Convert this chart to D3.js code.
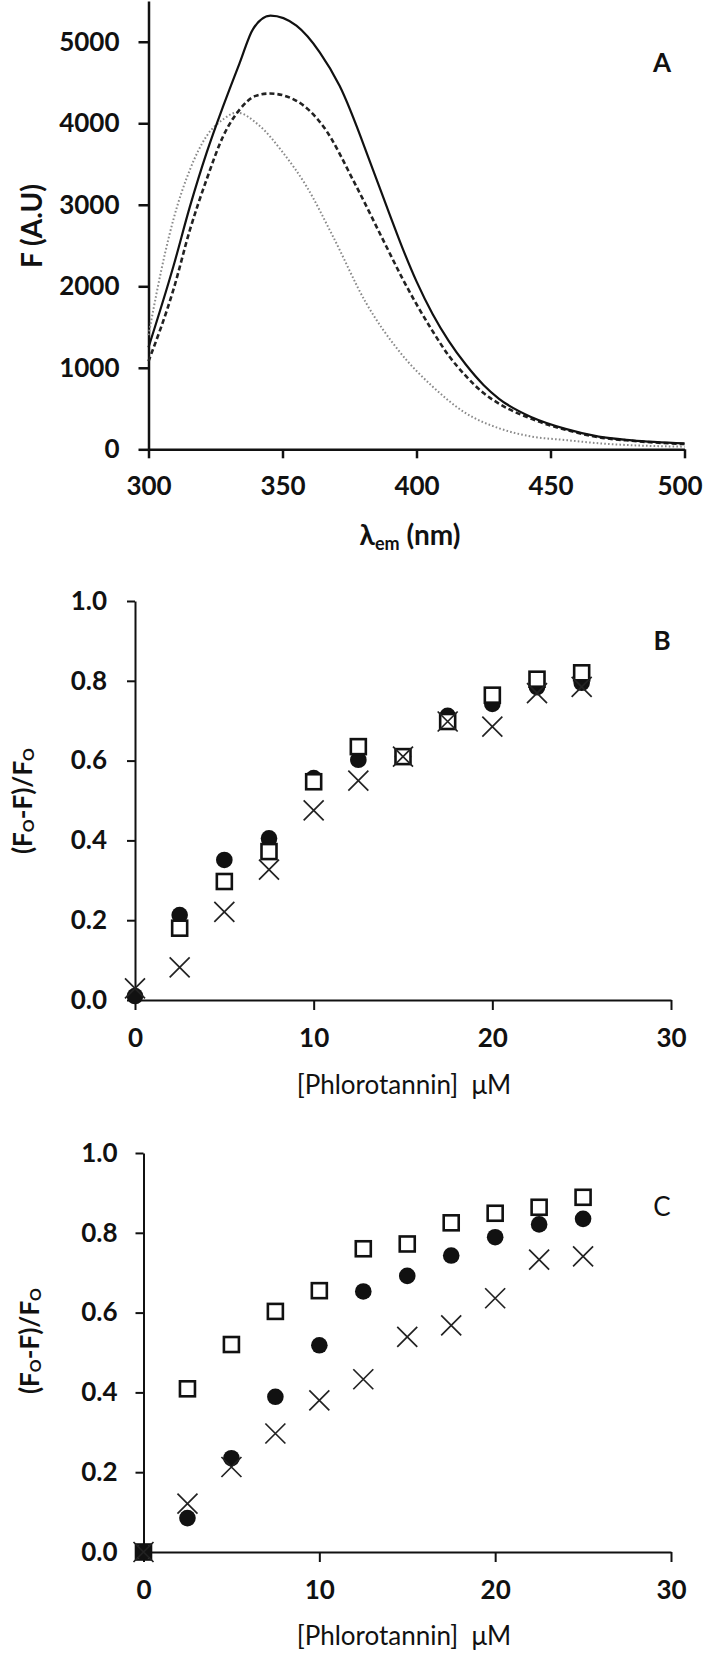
<!DOCTYPE html>
<html><head><meta charset="utf-8">
<script src="https://cdn.jsdelivr.net/npm/d3@7"></script>
<style>
body{margin:0;background:#fff}
svg{display:block}
text{font-family:Lato,"Liberation Sans",sans-serif;fill:#111}
</style></head><body>
<svg id="c" width="706" height="1654"></svg>
<script>
// ---------- Panel A: emission spectra ----------
const aTicksX = [300, 350, 400, 450, 500];
const aTicksY = [0, 1000, 2000, 3000, 4000, 5000];
const solidLambda = [300, 309.3, 315.5, 321.7, 327.9, 334.1, 339, 345.5, 355.2, 363.9, 371.3, 383.7, 390, 395, 400, 406, 412, 418.4, 425, 430.8, 443.2, 455.6, 468, 480.4, 500];
const solidF      = [1250, 2245, 2983, 3640, 4213, 4747, 5156, 5320, 5197, 4870, 4459, 3435, 2880, 2450, 2060, 1660, 1330, 1040, 790, 620, 390, 250, 155, 110, 72];
const dashLambda  = [300, 309.3, 315.5, 321.7, 327.9, 334.1, 340, 345.3, 355.2, 365.1, 377.5, 388.7, 395, 400, 406, 412, 418.4, 425, 430.8, 443.2, 455.6, 468, 480.4, 500];
const dashF       = [1080, 1959, 2697, 3312, 3844, 4172, 4336, 4365, 4275, 3967, 3229, 2491, 2080, 1780, 1450, 1150, 900, 690, 560, 370, 240, 148, 104, 64];
const dotLambda   = [300, 306.2, 309.3, 315.5, 321.7, 327.9, 332.9, 341.5, 350.2, 358.9, 368.8, 381.2, 393.6, 406, 418.4, 430.8, 443.2, 455.6, 468, 480.4, 500];
const dotF        = [1400, 2410, 2820, 3434, 3844, 4049, 4131, 3967, 3640, 3229, 2614, 1795, 1200, 770, 443, 258, 155, 114, 74, 50, 32];

// ---------- Panels B & C: quenching ----------
const conc = [0, 2.5, 5, 7.5, 10, 12.5, 15, 17.5, 20, 22.5, 25];
const concTicks = [0, 10, 20, 30];
const quenchTicks = [0, 0.2, 0.4, 0.6, 0.8, 1.0];
const bCircle = [0.01, 0.213, 0.351, 0.405, 0.556, 0.602, 0.61, 0.712, 0.742, 0.784, 0.795];
const bSquare = [null, 0.18, 0.297, 0.372, 0.547, 0.635, 0.61, 0.698, 0.764, 0.804, 0.82];
const bCross  = [0.029, 0.082, 0.221, 0.327, 0.475, 0.55, 0.61, 0.698, 0.685, 0.769, 0.785];
const cSquare = [0, 0.409, 0.52, 0.603, 0.655, 0.76, 0.772, 0.825, 0.849, 0.864, 0.889];
const cCircle = [0, 0.085, 0.235, 0.389, 0.518, 0.653, 0.692, 0.743, 0.789, 0.821, 0.835];
const cCross  = [0, 0.121, 0.213, 0.297, 0.38, 0.433, 0.539, 0.568, 0.636, 0.733, 0.741];

const svg = d3.select("#c");

function styleAxis(g, w) {
  g.select(".domain").attr("stroke", "#111").attr("stroke-width", w);
  g.selectAll(".tick line").attr("stroke", "#111").attr("stroke-width", w);
  g.selectAll(".tick text").attr("font-size", 26).attr("font-weight", 700)
    .attr("font-family", "Lato,'Liberation Sans',sans-serif").attr("fill", "#111");
}

// ===== Panel A =====
const ax = d3.scaleLinear().domain([300, 500]).range([148.5, 684.5]);
const ay = d3.scaleLinear().domain([0, 5500]).range([449.3, 1]);
const gA = svg.append("g");
const aXAxis = gA.append("g").attr("transform", `translate(0,${ay(0)})`)
  .call(d3.axisBottom(ax).tickValues(aTicksX).tickSize(9).tickPadding(18).tickSizeOuter(0).tickFormat(d3.format("d")));
styleAxis(aXAxis, 2.5);
aXAxis.selectAll(".tick text").filter(d => d === 500).attr("dx", -5);
const aYAxis = gA.append("g").attr("transform", `translate(${ax(300)},0)`)
  .call(d3.axisLeft(ay).tickValues(aTicksY).tickSize(10).tickPadding(19).tickSizeOuter(0).tickFormat(d3.format("d")));
styleAxis(aYAxis, 2.5);

function spectrum(ls, fs) { return ls.map((l, i) => [l, fs[i]]); }
const lineA = d3.line().x(d => ax(d[0])).y(d => ay(d[1])).curve(d3.curveMonotoneX);
gA.append("path").datum(spectrum(dotLambda, dotF)).attr("d", lineA)
  .attr("fill", "none").attr("stroke", "#8a8a8a").attr("stroke-width", 2).attr("stroke-dasharray", "1.6,2.2");
gA.append("path").datum(spectrum(dashLambda, dashF)).attr("d", lineA)
  .attr("fill", "none").attr("stroke", "#222").attr("stroke-width", 2.6).attr("stroke-dasharray", "5,3");
gA.append("path").datum(spectrum(solidLambda, solidF)).attr("d", lineA)
  .attr("fill", "none").attr("stroke", "#111").attr("stroke-width", 2.2);

gA.append("text").attr("transform", "translate(31,226) rotate(-90)")
  .attr("text-anchor", "middle").attr("dominant-baseline", "central")
  .attr("font-size", 28).attr("font-weight", 700).text("F (A.U)");
const lam = gA.append("text").attr("x", 410).attr("y", 545).attr("text-anchor", "middle")
  .attr("font-size", 28).attr("font-weight", 700);
lam.append("tspan").text("λ");
lam.append("tspan").attr("font-size", 18).attr("dy", 5).text("em");
lam.append("tspan").attr("dy", -5).text(" (nm)");
gA.append("text").attr("x", 662).attr("y", 62).attr("text-anchor", "middle").attr("dominant-baseline", "central")
  .attr("font-size", 26).attr("font-weight", 700).text("A");

// ===== Quenching panels =====
function quenchPanel(opt) {
  const x = d3.scaleLinear().domain([0, 30]).range([opt.x0, 671]);
  const y = d3.scaleLinear().domain([0, 1]).range([opt.yBottom, opt.yBottom - 399]);
  const g = svg.append("g");
  const xa = g.append("g").attr("transform", `translate(0,${y(0)})`)
    .call(d3.axisBottom(x).tickValues(concTicks).tickSize(10).tickPadding(19).tickSizeOuter(0).tickFormat(d3.format("d")));
  styleAxis(xa, 2);
  const ya = g.append("g").attr("transform", `translate(${x(0)},0)`)
    .call(d3.axisLeft(y).tickValues(quenchTicks).tickSize(8).tickPadding(opt.yPad).tickSizeOuter(0).tickFormat(d3.format(".1f")));
  styleAxis(ya, 2);

  const drawCircles = (vals) => g.append("g").selectAll("circle")
    .data(conc.map((c, i) => [c, vals[i]]).filter(d => d[1] != null)).join("circle")
    .attr("cx", d => x(d[0])).attr("cy", d => y(d[1])).attr("r", 8.3).attr("fill", "#111");
  const drawSquares = (vals) => g.append("g").selectAll("rect")
    .data(conc.map((c, i) => [c, vals[i]]).filter(d => d[1] != null)).join("rect")
    .attr("x", d => x(d[0]) - 7.5).attr("y", d => y(d[1]) - 7.5).attr("width", 15).attr("height", 15)
    .attr("fill", "#fff").attr("stroke", "#111").attr("stroke-width", 2.6);
  const drawCrosses = (vals) => g.append("g").selectAll("path")
    .data(conc.map((c, i) => [c, vals[i]]).filter(d => d[1] != null)).join("path")
    .attr("d", d => { const cx = x(d[0]), cy = y(d[1]), s = 10;
      return `M${cx - s},${cy - s}L${cx + s},${cy + s}M${cx - s},${cy + s}L${cx + s},${cy - s}`; })
    .attr("stroke", "#222").attr("stroke-width", 1.7).attr("fill", "none");

  opt.order.forEach(k => {
    if (k === "circle") drawCircles(opt.circle);
    if (k === "square") drawSquares(opt.square);
    if (k === "cross") drawCrosses(opt.cross);
  });

  const yl = g.append("text").attr("transform", `translate(${opt.ylx},${opt.yly}) rotate(-90)`)
    .attr("text-anchor", "middle").attr("dominant-baseline", "central")
    .attr("font-size", 26).attr("font-weight", 700);
  yl.append("tspan").text("(F");
  yl.append("tspan").attr("font-size", 16).attr("dy", 5).text("O");
  yl.append("tspan").attr("dy", -5).text("-F)/F");
  yl.append("tspan").attr("font-size", 16).attr("dy", 5).text("O");

  g.append("text").attr("x", 404).attr("y", opt.xly).attr("text-anchor", "middle").attr("dominant-baseline", "central")
    .attr("font-size", 26).style("white-space", "pre").text("[Phlorotannin]  μM");
  g.append("text").attr("x", 662).attr("y", opt.lettY).attr("text-anchor", "middle").attr("dominant-baseline", "central")
    .attr("font-size", 26).attr("font-weight", opt.lettW).text(opt.letter);
}

quenchPanel({x0: 135, yBottom: 1000, yPad: 20, circle: bCircle, square: bSquare, cross: bCross,
  order: ["circle", "square", "cross"], ylx: 22, yly: 801, xly: 1084, letter: "B", lettY: 640, lettW: 700});
quenchPanel({x0: 143.5, yBottom: 1552, yPad: 18, circle: cCircle, square: cSquare, cross: cCross,
  order: ["square", "circle", "cross"], ylx: 29, yly: 1341, xly: 1635, letter: "C", lettY: 1206, lettW: 400});
</script>
</body></html>
